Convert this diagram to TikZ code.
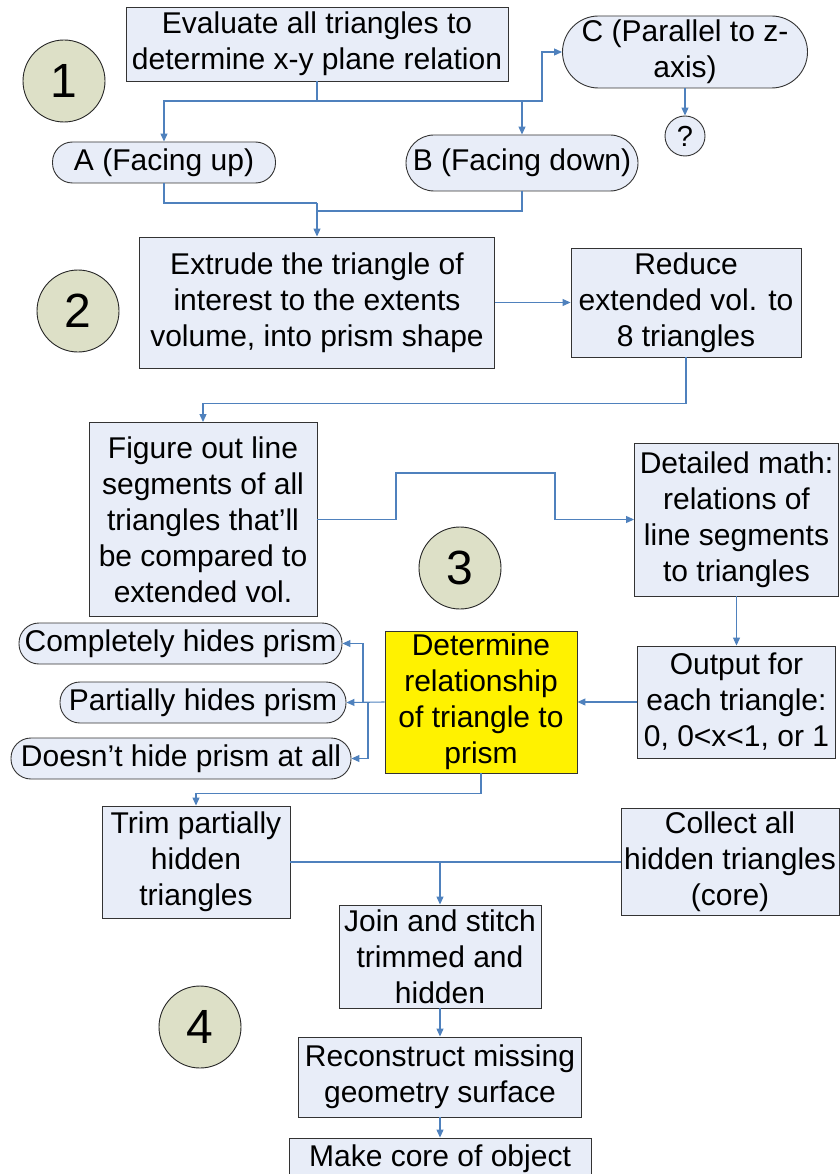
\documentclass[tikz,border=0pt]{standalone}
\usepackage{fontspec}
\setmainfont{Liberation Sans}
\usetikzlibrary{arrows.meta}
\definecolor{boxfill}{RGB}{232,237,248}
\definecolor{stagefill}{RGB}{221,224,199}
\definecolor{linkblue}{RGB}{79,129,189}

\begin{document}
\begin{tikzpicture}[x=1pt,y=-1pt]
    \tikzstyle{box}= [draw=black!80, line width=0.9pt, fill=boxfill, align=center, inner sep=0pt, font=\fontsize{30}{36}\selectfont]
    \tikzstyle{pill}= [box, rounded corners=20pt]
    \tikzstyle{stage}= [circle, draw=black!85, line width=0.9pt, fill=stagefill, minimum size=82pt, inner sep=0pt, font=\fontsize{48}{48}\selectfont]
    \tikzstyle{linkA}= [linkblue, line width=1.1pt, -{Triangle[length=8pt,width=7pt]}]
    \tikzstyle{linkB}= [linkblue, line width=1.1pt]
    \tikzset{wh/.style 2 args={minimum width=#1pt, minimum height=#2pt}}
  \useasboundingbox (0,0) rectangle (839,1174);

  % stage numbers
  \foreach \n/\x/\y in {1/64/81, 2/78/311, 3/460/568, 4/200/1027}
    \node[stage] (stage\n) at (\x,\y) {\n};

  % step 1
  \node[box, wh={382}{74}] (eval) at (317,44) {Evaluate all triangles to\\determine x-y plane relation};
  \node[pill, rounded corners=36pt, wh={245}{72}] (cpar) at (685,52) {C (Parallel to z-\\axis)};
  \node[circle, draw=black!80, line width=0.9pt, fill=boxfill, minimum size=40pt, inner sep=0pt, font=\fontsize{29}{29}\selectfont] (qmark) at (685,136) {?};
  \node[pill, wh={223}{41}] (afu) at (164,162.5) {A (Facing up)};
  \node[pill, rounded corners=28pt, wh={232}{56}] (bfd) at (522,163) {B (Facing down)};

  % step 2
  \node[box, wh={355}{131}] (extr) at (317,302.5) {Extrude the triangle of\\interest to the extents\\volume, into prism shape};
  \node[box, wh={230}{109}] (redu) at (686,302.5) {Reduce\\extended vol. to\\8 triangles};

  % step 3
  \node[box, wh={228}{194}] (figr) at (203,519.5) {Figure out line\\segments of all\\triangles that’ll\\be compared to\\extended vol.};
  \node[box, wh={204}{153}] (detm) at (736.5,519.5) {Detailed math:\\relations of\\line segments\\to triangles};
  \node[box, fill=yellow, wh={192}{142}] (dete) at (481,702) {Determine\\relationship\\of triangle to\\prism};
  \node[box, wh={198}{112}] (outp) at (736.5,702) {Output for\\each triangle:\\0, 0<x<1, or 1};
  \foreach \nm/\x/\y/\w/\t in {comp/180.5/643.5/323/Completely hides prism,
                               part/203/702.5/286/Partially hides prism,
                               dont/181/758.5/340/Doesn’t hide prism at all}
    \node[pill, wh={\w}{41}] (\nm) at (\x,\y) {\t};

  % step 4
  \node[box, wh={188}{112}] (trim) at (196,862) {Trim partially\\hidden\\triangles};
  \node[box, wh={218}{107}] (coll) at (730,862) {Collect all\\hidden triangles\\(core)};
  \node[box, wh={202}{103}] (join) at (440,956.5) {Join and stitch\\trimmed and\\hidden};
  \node[box, wh={283}{80}] (reco) at (440,1077) {Reconstruct missing\\geometry surface};
  \node[box, wh={302}{42}] (make) at (440,1159) {Make core of object};

  % connectors
  \coordinate (s1) at (317,101);
  \coordinate (s2) at (542,101);
  \draw[linkB] (eval.south) -- (s1);
  \draw[linkA] (s1) -| (afu.north);
  \draw[linkA] (s1) -| (bfd.north);
  \draw[linkA] (s1) -- (s2) |- (cpar.west);
  \draw[linkA] (cpar.south) -- (qmark.north);

  \coordinate (m1) at (317,203);
  \coordinate (m2) at (317,211);
  \draw[linkB] (afu.south) |- (m1);
  \draw[linkB] (bfd.south) |- (m2);
  \draw[linkA] (m1) -- (extr.north);
  \draw[linkA] (extr.east) -- (redu.west);
  \draw[linkA] (redu.south) -- ++(0,46) -| (figr.north);

  \coordinate (k1) at (396,473);
  \coordinate (k2) at (555,473);
  \draw[linkA] (figr.east) -| (k1) -- (k2) |- (detm.west);
  \draw[linkA] (detm.south) -- (outp.north);
  \draw[linkA] (outp.west) -- (dete.east);

  \coordinate (j1) at (363,702);
  \coordinate (j2) at (368,702);
  \draw[linkA] (dete.west) -- (part.east);
  \draw[linkA] (j1) |- (comp.east);
  \draw[linkA] (j2) |- (dont.east);
  \draw[linkA] (dete.south) -- ++(0,20) -| (trim.north);

  \coordinate (j3) at (440,862);
  \draw[linkB] (trim.east) -- (coll.west);
  \draw[linkA] (j3) -- (join.north);
  \draw[linkA] (join.south) -- (reco.north);
  \draw[linkA] (reco.south) -- (make.north);

\end{tikzpicture}
\end{document}
